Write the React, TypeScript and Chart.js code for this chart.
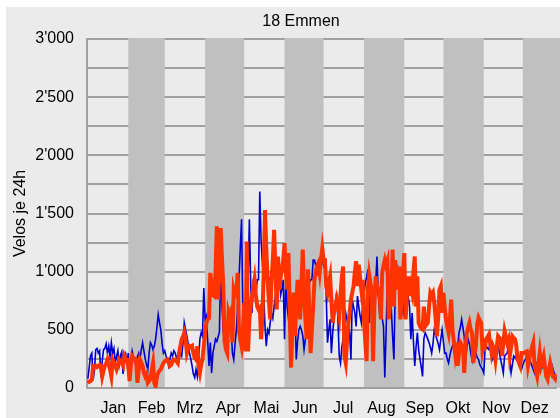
import React, { useEffect, useRef } from "react";
import { Chart, registerables } from "chart.js";

Chart.register(...registerables);

const chartTitle = "18 Emmen";
const yAxisTitle = "Velos je 24h";
const monthLabels = ["Jan", "Feb", "Mrz", "Apr", "Mai", "Jun", "Jul", "Aug", "Sep", "Okt", "Nov", "Dez"];
const monthLengths = [31, 28, 31, 30, 31, 30, 31, 31, 30, 31, 30, 31];
const yMax = 3000;
const yStep = 250;
const yLabelStep = 500;

// Blue series (daily values)
const blueJan = [80, 180, 280, 300, 70, 150, 330, 340, 300, 320, 90, 230, 330, 340, 380, 300, 360, 270, 390, 300, 340, 220, 270, 320, 200, 280, 310, 120, 250, 290, 210];
const blueFeb = [300, 75, 200, 315, 260, 230, 190, 270, 300, 250, 330, 390, 320, 250, 200, 160, 300, 390, 370, 330, 360, 420, 520, 630, 560, 500, 380, 300];
const blueMrz = [320, 275, 240, 190, 250, 300, 275, 320, 300, 260, 280, 245, 300, 275, 380, 560, 500, 445, 380, 300, 250, 190, 120, 90, 160, 100, 250, 420, 475, 445, 860];
const blueApr = [590, 620, 400, 190, 390, 130, 300, 360, 420, 400, 440, 480, 1100, 700, 480, 420, 330, 500, 560, 645, 500, 300, 245, 380, 500, 700, 930, 1200, 1450, 645];
const blueMai = [330, 420, 500, 900, 1450, 900, 645, 930, 960, 800, 930, 930, 1690, 1275, 1075, 800, 530, 360, 500, 470, 560, 645, 600, 700, 790, 960, 900, 1045, 800, 850, 930];
const blueJun = [420, 960, 700, 600, 475, 190, 350, 500, 700, 245, 400, 500, 530, 500, 450, 330, 420, 500, 645, 905, 930, 930, 1100, 1100, 1050, 1000, 1100, 950, 1075, 1100];
const blueJul = [1050, 1020, 800, 390, 500, 590, 300, 475, 600, 700, 820, 590, 275, 215, 350, 420, 550, 645, 580, 520, 475, 245, 760, 700, 645, 530, 790, 700, 620, 560, 700];
const blueAug = [820, 900, 950, 1020, 560, 930, 600, 330, 700, 900, 1130, 800, 645, 675, 600, 530, 90, 475, 930, 845, 760, 675, 445, 245, 845, 950, 1020, 900, 820, 700, 645];
const blueSep = [800, 930, 845, 780, 700, 420, 645, 400, 190, 350, 475, 330, 250, 180, 100, 420, 475, 450, 420, 390, 350, 300, 380, 500, 460, 420, 380, 330, 420, 500];
const blueOkt = [400, 300, 300, 250, 215, 280, 330, 360, 400, 390, 370, 360, 475, 520, 590, 520, 445, 245, 350, 420, 380, 300, 245, 390, 360, 300, 260, 245, 200, 180, 160];
const blueNov = [130, 330, 360, 340, 330, 420, 300, 245, 270, 300, 340, 390, 300, 245, 190, 130, 275, 290, 300, 360, 250, 130, 200, 275, 260, 275, 240, 190, 175, 160];
const blueDez = [200, 230, 245, 270, 300, 250, 220, 190, 160, 130, 180, 220, 245, 200, 160, 175, 190, 190, 170, 160, 180, 215, 210, 170, 130, 110, 75, 90, 100, 90, 80];

// Orange series (daily values)
const orangeJan = [40, 55, 60, 70, 190, 185, 190, 180, 190, 200, 190, 100, 150, 190, 210, 245, 200, 160, 100, 245, 220, 190, 160, 200, 245, 230, 210, 190, 275, 250, 245];
const orangeFeb = [200, 60, 190, 275, 260, 250, 245, 45, 150, 245, 220, 190, 130, 100, 120, 45, 60, 75, 150, 215, 45, 15, 100, 130, 150, 160, 190, 215];
const orangeMrz = [230, 240, 245, 220, 190, 200, 230, 245, 240, 230, 215, 300, 360, 420, 440, 475, 420, 300, 340, 360, 350, 360, 300, 260, 245, 360, 190, 130, 200, 245, 360];
const orangeApr = [475, 560, 590, 600, 990, 875, 800, 790, 1000, 1390, 760, 1000, 1375, 1100, 875, 400, 330, 300, 645, 600, 645, 390, 845, 800, 790, 990, 500, 420, 360, 500];
const orangeMai = [730, 315, 1260, 315, 590, 700, 790, 850, 930, 800, 700, 675, 690, 420, 600, 990, 1530, 1200, 930, 750, 590, 930, 1100, 1360, 1020, 675, 1130, 845, 950, 1020, 1100];
const orangeJun = [1245, 1000, 845, 1160, 675, 175, 500, 820, 445, 700, 930, 750, 590, 900, 1190, 820, 600, 420, 1020, 650, 300, 500, 700, 930, 1000, 1050, 1075, 990, 1100, 1200];
const orangeJul = [1100, 1100, 875, 820, 900, 960, 750, 560, 650, 700, 760, 700, 620, 800, 950, 1045, 275, 215, 400, 560, 650, 760, 820, 875, 1000, 1090, 875, 1060, 950, 845, 930];
const orangeAug = [590, 400, 230, 845, 975, 900, 845, 230, 700, 960, 875, 850, 845, 590, 990, 1050, 1100, 1050, 1090, 590, 700, 845, 1190, 700, 1100, 950, 845, 1045, 590, 800, 1000];
const orangeSep = [1160, 590, 800, 960, 790, 875, 820, 1000, 1130, 700, 960, 560, 530, 515, 505, 700, 530, 545, 560, 700, 820, 800, 820, 730, 600, 445, 600, 845, 875, 645];
const orangeOkt = [820, 700, 590, 530, 475, 600, 760, 500, 400, 300, 390, 190, 300, 390, 370, 360, 130, 360, 475, 520, 560, 500, 475, 215, 300, 360, 550, 605, 580, 560, 330];
const orangeNov = [390, 360, 420, 440, 460, 380, 300, 360, 330, 245, 350, 445, 430, 420, 275, 380, 490, 440, 390, 420, 275, 350, 445, 430, 420, 360, 245, 220, 190, 300];
const orangeDez = [300, 300, 310, 315, 190, 250, 300, 350, 390, 190, 150, 100, 200, 300, 190, 230, 275, 180, 100, 75, 150, 215, 160, 100, 90, 75, 120, 160, 140, 120, 100];

const blueSeries = [
  ...blueJan, ...blueFeb, ...blueMrz, ...blueApr, ...blueMai, ...blueJun,
  ...blueJul, ...blueAug, ...blueSep, ...blueOkt, ...blueNov, ...blueDez,
];
const orangeSeries = [
  ...orangeJan, ...orangeFeb, ...orangeMrz, ...orangeApr, ...orangeMai, ...orangeJun,
  ...orangeJul, ...orangeAug, ...orangeSep, ...orangeOkt, ...orangeNov, ...orangeDez,
];

const monthStarts: number[] = monthLengths.reduce(
  (acc: number[], n: number) => {
    acc.push(acc[acc.length - 1] + n);
    return acc;
  },
  [0]
);

const FONT_FAMILY = "'Liberation Sans', Arial, Helvetica, sans-serif";
const BG = "#ebebeb";
const BAND = "#c0c0c0";
const LINE = "#a0a0a0";

function fmt(v: number): string {
  const s = String(Math.round(v));
  return v >= 1000 ? s.slice(0, -3) + "'" + s.slice(-3) : s;
}

const decorPlugin = {
  id: "decor",
  beforeDraw(chart: any) {
    const { ctx, width, height } = chart;
    ctx.save();
    ctx.fillStyle = BG;
    ctx.fillRect(6, 7, width - 6, height - 7);
    ctx.restore();
  },
  beforeDatasetsDraw(chart: any) {
    const { ctx, chartArea } = chart;
    const x = chart.scales.x;
    ctx.save();
    ctx.fillStyle = BAND;
    for (let i = 1; i < 12; i += 2) {
      const a = x.getPixelForValue(monthStarts[i]);
      const b = x.getPixelForValue(monthStarts[i + 1]);
      ctx.fillRect(a, chartArea.top - 1, b - a, chartArea.bottom - chartArea.top + 1);
    }
    ctx.strokeStyle = LINE;
    ctx.lineWidth = 2;
    ctx.beginPath();
    ctx.moveTo(chartArea.left - 1, chartArea.bottom);
    ctx.lineTo(chartArea.right, chartArea.bottom);
    ctx.stroke();
    ctx.restore();
  },
  afterDraw(chart: any) {
    const { ctx } = chart;
    ctx.save();
    ctx.fillStyle = "#000";
    ctx.font = `16px ${FONT_FAMILY}`;
    ctx.textAlign = "center";
    ctx.textBaseline = "alphabetic";
    ctx.fillText(chartTitle, 301, 26);
    ctx.restore();
  },
};

export default function App() {
  const ref = useRef<HTMLCanvasElement | null>(null);

  useEffect(() => {
    if (!ref.current) return;
    const font = { family: FONT_FAMILY, size: 16 };
    const chart = new Chart(ref.current, {
      type: "line",
      data: {
        datasets: [
          {
            label: "Orange",
            data: orangeSeries.map((y, i) => ({ x: i, y })),
            borderColor: "#ff3300",
            backgroundColor: "#ff3300",
            borderWidth: 4,
            pointRadius: 0,
            tension: 0,
            order: 1,
          },
          {
            label: "Blau",
            data: blueSeries.map((y, i) => ({ x: i, y })),
            borderColor: "#0000cc",
            backgroundColor: "#0000cc",
            borderWidth: 1.6,
            pointRadius: 0,
            tension: 0,
            order: 2,
          },
        ],
      },
      options: {
        animation: false,
        responsive: false,
        events: [],
        layout: { padding: { top: 39, left: 0, right: 0, bottom: 0 } },
        plugins: {
          legend: { display: false },
          tooltip: { enabled: false },
          title: { display: false },
        },
        scales: {
          x: {
            type: "linear",
            display: false,
            min: -0.7,
            max: 360,
          },
          xm: {
            type: "linear",
            position: "bottom",
            min: -0.687,
            max: 11.576,
            afterBuildTicks: (s: any) => {
              s.ticks = monthLabels.map((_, i) => ({ value: i }));
            },
            afterFit: (s: any) => {
              s.height = 30;
            },
            ticks: {
              callback: (v: any) => monthLabels[Number(v)] ?? "",
              autoSkip: false,
              maxRotation: 0,
              padding: 11,
              color: "#000",
              font,
            },
            grid: { display: false, drawTicks: false },
            border: { display: false },
          },
          y: {
            type: "linear",
            min: 0,
            max: yMax,
            afterFit: (s: any) => {
              s.width = 87;
            },
            ticks: {
              stepSize: yStep,
              callback: (v: any) => (Number(v) % yLabelStep === 0 ? fmt(Number(v)) : ""),
              padding: 13,
              color: "#000",
              font,
            },
            grid: { color: LINE, lineWidth: 2, drawTicks: false },
            border: { display: true, color: LINE, width: 2 },
            title: {
              display: true,
              text: yAxisTitle,
              color: "#000",
              font,
              padding: { top: 11, bottom: 0 },
            },
          },
        },
      } as any,
      plugins: [decorPlugin],
    });
    return () => chart.destroy();
  }, []);

  return (
    <canvas
      ref={ref}
      width={560}
      height={418}
      style={{ position: "fixed", left: 0, top: 0, width: 560, height: 418 }}
    />
  );
}
